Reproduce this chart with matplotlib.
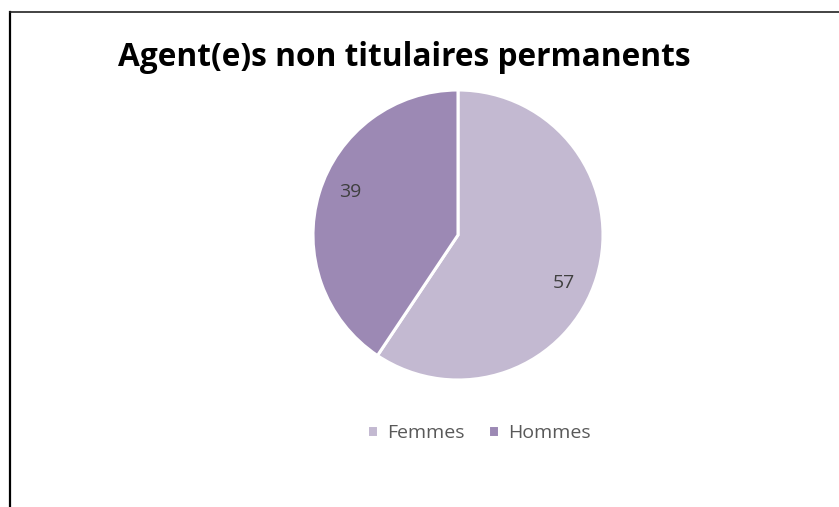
import matplotlib
matplotlib.use("Agg")
import matplotlib.pyplot as plt
from matplotlib.lines import Line2D
import numpy as np

categories = ["Femmes", "Hommes"]
values = [57, 39]
colors = ["#C3B9D1", "#9C89B4"]
title = "Agent(e)s non titulaires permanents"

W, H = 839, 507
fig = plt.figure(figsize=(W / 100, H / 100), dpi=100)
fig.patch.set_facecolor("white")

cx, cy, r = 458, 235, 145
ax = fig.add_axes([(cx - r) / W, (H - cy - r) / H, 2 * r / W, 2 * r / H])
wedges, texts, autotexts = ax.pie(
    values, colors=colors, startangle=90, counterclock=False,
    autopct=lambda p: f"{p * sum(values) / 100:.0f}", pctdistance=0.8,
    wedgeprops=dict(edgecolor="white", linewidth=2.2),
    textprops=dict(color="#404040", fontsize=14, family="Open Sans"),
)
# best-fit label placement (slight rotation like the original)
offsets = [-7.5, -5.0]
for w, t, off in zip(wedges, autotexts, offsets):
    ang = np.deg2rad((w.theta1 + w.theta2) / 2 + off)
    t.set_position((0.8 * np.cos(ang), 0.8 * np.sin(ang)))

ax.set_xlim(-1, 1)
ax.set_ylim(-1, 1)
ax.set_aspect("equal")
ax.axis("off")

fig.text(404 / W, 1 - 66 / H, title, ha="center", va="baseline",
         fontsize=22.8, fontweight="bold", family="Open Sans", color="black")

leg = fig.legend(wedges, categories, loc="center", bbox_to_anchor=(479 / W, 1 - 433 / H),
                 ncol=2, frameon=False, handlelength=0.55, handleheight=0.55,
                 handletextpad=0.5, columnspacing=1.2,
                 prop=dict(family="Open Sans", size=14))
for t in leg.get_texts():
    t.set_color("#595959")

fig.add_artist(Line2D([10 / W, 10 / W], [0, 1 - 12 / H], color="black", linewidth=1.6))
fig.add_artist(Line2D([10 / W, 1], [1 - 12 / H, 1 - 12 / H], color="#222222", linewidth=1.2))

fig.savefig("out.png", dpi=100, facecolor="white")
